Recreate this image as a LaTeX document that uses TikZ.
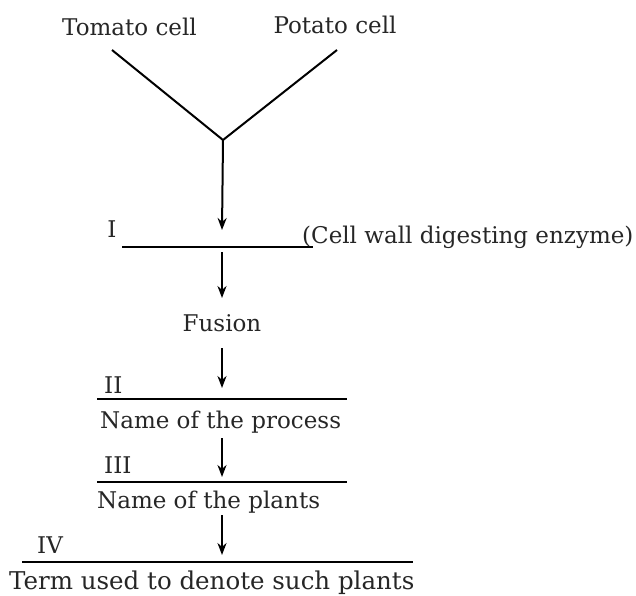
\documentclass[tikz,border=0pt]{standalone}
\usepackage{fontspec}
\setmainfont{DejaVu Serif}
\usetikzlibrary{arrows.meta}

\tikzset{
  lbl/.style={font=\fontsize{23}{27}\selectfont, inner sep=0pt, text=black!85},
  flow/.style={-{Stealth[length=12pt,width=9pt]}, line width=2pt},
  blank/.style={line width=2pt},
}

\begin{document}
\begin{tikzpicture}[x=1pt, y=-1pt]
    \useasboundingbox (0,0) rectangle (636,595);

    % asse verticale delle frecce
    \def\xM{222}

    % ----------------------------------------------------
    % 1. Le due cellule che si uniscono
    % ----------------------------------------------------
    \node[lbl, anchor=base] (tomato) at (129.5,35) {Tomato cell};
    \node[lbl, anchor=base] (potato) at (335,33) {Potato cell};
    \coordinate (tomatoend) at (112,50);
    \coordinate (potatoend) at (337,50);
    \coordinate (join) at (223,140);
    \draw[blank] (tomatoend) -- (join) -- (potatoend);

    % ----------------------------------------------------
    % 2. Spazio I ed enzima
    % ----------------------------------------------------
    \coordinate (blankIa) at (122,247);
    \coordinate (blankIb) at (313,247);
    \coordinate (tipI) at (\xM,230);
    \draw[flow] (join) -- (tipI);
    \draw[blank] (blankIa) -- (blankIb);
    \node[lbl, anchor=base] (numI) at (112,237) {I};
    \node[lbl, anchor=base west] (enzyme) at (302,243) {(Cell wall digesting enzyme)};

    % ----------------------------------------------------
    % 3. Fusione
    % ----------------------------------------------------
    \node[lbl, anchor=base] (fusion) at (\xM,331) {Fusion};
    \coordinate (startF) at (\xM,252);
    \coordinate (tipF) at (\xM,298);
    \draw[flow] (startF) -- (tipF);

    % ----------------------------------------------------
    % 4. Spazio II: nome del processo
    % ----------------------------------------------------
    \coordinate (startII) at (\xM,348);
    \coordinate (tipII) at (\xM,388);
    \draw[flow] (startII) -- (tipII);
    \coordinate (blankIIa) at (97,399);
    \coordinate (blankIIb) at (347,399);
    \draw[blank] (blankIIa) -- (blankIIb);
    \node[lbl, anchor=base west] (numII) at (104,393) {II};
    \node[lbl, anchor=base west] (process) at (100,428) {Name of the process};

    % ----------------------------------------------------
    % 5. Spazio III: nome delle piante
    % ----------------------------------------------------
    \coordinate (startIII) at (\xM,438);
    \coordinate (tipIII) at (\xM,477);
    \draw[flow] (startIII) -- (tipIII);
    \coordinate (blankIIIa) at (97,482);
    \coordinate (blankIIIb) at (347,482);
    \draw[blank] (blankIIIa) -- (blankIIIb);
    \node[lbl, anchor=base west] (numIII) at (104,473) {III};
    \node[lbl, anchor=base west] (plants) at (97,508) {Name of the plants};

    % ----------------------------------------------------
    % 6. Spazio IV: termine
    % ----------------------------------------------------
    \coordinate (startIV) at (\xM,515);
    \coordinate (tipIV) at (\xM,555);
    \draw[flow] (startIV) -- (tipIV);
    \coordinate (blankIVa) at (22,562);
    \coordinate (blankIVb) at (413,562);
    \draw[blank] (blankIVa) -- (blankIVb);
    \node[lbl, anchor=base west] (numIV) at (37,553) {IV};
    \node[lbl, anchor=base west, font=\fontsize{24.5}{28}\selectfont] (term) at (9,589) {Term used to denote such plants};

\end{tikzpicture}
\end{document}
